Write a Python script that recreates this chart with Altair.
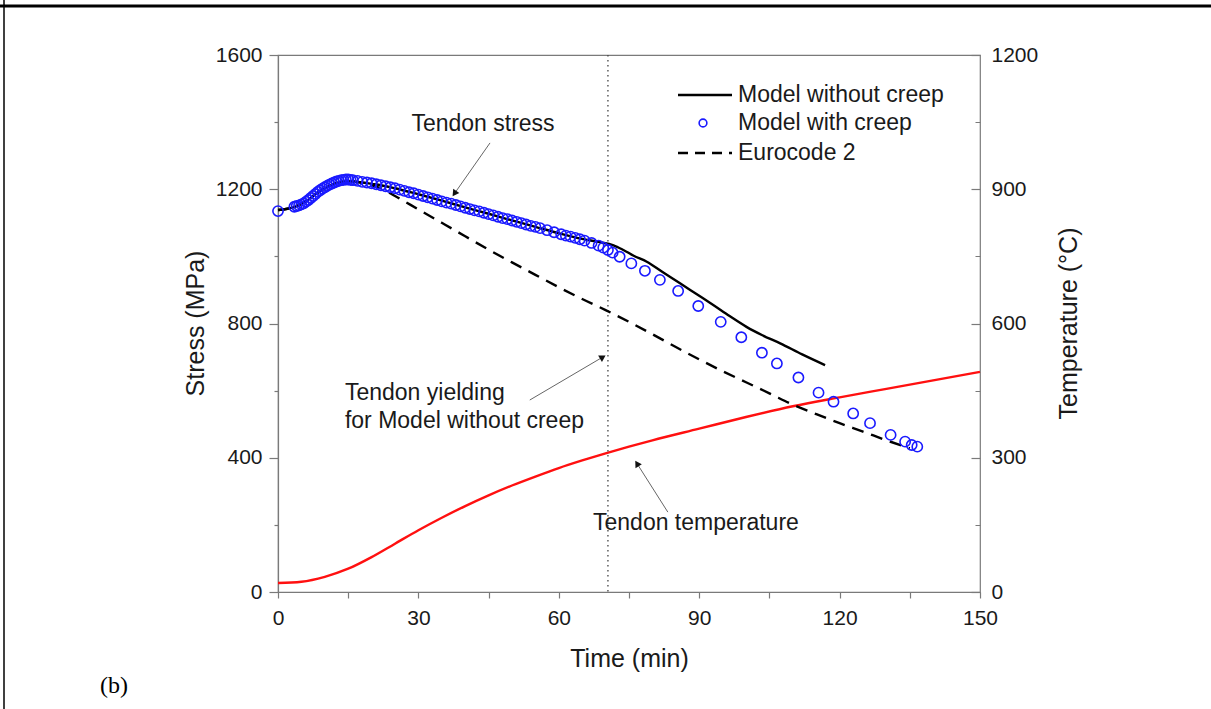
import altair as alt
import pandas as pd

# ---------------- data ----------------
temp_time = [0, 5, 10, 15, 20, 25, 30, 35, 40, 45, 50, 55, 60, 65, 70, 75, 80, 90, 100, 110, 120, 130, 140, 150]
temp_vals = [20, 23, 34, 52, 78, 108, 138, 166, 192, 216, 238, 258, 277, 294, 310, 325, 339, 365, 391, 415, 435, 454, 473, 492]

nocreep_time = [0, 2, 4, 6, 8, 10, 12, 14, 15, 16, 18, 20, 22, 25, 30, 35, 40, 45, 50, 55, 60, 65,
                68.4, 71.7, 73.8, 76, 78.8, 82, 85.9, 89.5, 93, 96.5, 100.1, 103.5, 107.3, 112, 116.9]
nocreep_vals = [1138, 1142, 1150, 1164, 1185, 1203, 1216, 1223, 1224, 1223, 1220, 1216, 1212, 1203, 1185, 1166,
                1146, 1127, 1107, 1088, 1069, 1052, 1043, 1033, 1019, 1002, 984, 955, 920, 887, 855, 822, 790,
                765, 741, 708, 676]

euro_time = [0, 2, 4, 6, 8, 10, 12, 14, 15, 16, 18, 20, 22, 25, 30, 35, 40, 45, 50, 55, 60, 65, 70, 75,
             80, 85, 90, 95, 100, 105, 110, 115, 120, 125, 130, 135]
euro_vals = [1138, 1142, 1150, 1164, 1185, 1203, 1216, 1223, 1224, 1223, 1219, 1212, 1203, 1180, 1140, 1100,
             1060, 1020, 982, 945, 908, 873, 840, 805, 768, 730, 693, 658, 625, 592, 558, 530, 503, 478, 452, 428]

creep_time = [0, 3.5, 4, 4.5, 5, 5.5, 6, 6.5, 7, 7.5, 8, 8.5, 9, 9.5, 10, 10.5, 11, 11.5, 12, 12.5, 13, 13.5,
              14, 14.5, 15, 15.5, 16, 17, 18, 19, 20, 21, 22, 23, 24, 25, 26, 27, 28, 29, 30, 31, 32, 33, 34, 35,
              36, 37, 38, 39, 40, 41, 42, 43, 44, 45, 46, 47, 48, 49, 50, 51, 52, 53, 54, 55, 56, 57.5, 59, 60.5,
              61.5, 62.5, 63.5, 64.5, 65.5, 67, 68.5, 69.5, 70.5, 71.5, 73, 75.5, 78.4, 81.6, 85.5, 89.8, 94.6, 99,
              103.4, 106.6, 111.2, 115.5, 118.7, 122.9, 126.5, 130.9, 134, 135.4, 136.6]
creep_vals = [1135, 1148, 1150, 1152, 1155, 1158, 1163, 1168, 1174, 1180, 1186, 1192, 1197, 1202, 1206, 1210,
              1214, 1217, 1220, 1223, 1225, 1227, 1228, 1229, 1229, 1228, 1227, 1225, 1222, 1220, 1218, 1215,
              1212, 1209, 1206, 1203, 1199, 1195, 1191, 1188, 1184, 1180, 1176, 1172, 1168, 1164, 1160, 1157,
              1153, 1149, 1145, 1141, 1137, 1134, 1130, 1126, 1122, 1118, 1114, 1111, 1107, 1103, 1099, 1095,
              1091, 1088, 1084, 1078, 1072, 1066, 1062, 1059, 1055, 1051, 1047, 1040, 1032, 1026, 1019, 1011,
              999, 979, 957, 930, 897, 852, 805, 759, 713, 681, 639, 594, 567, 532, 503, 468, 448, 438, 433]

yield_time = [70.5]

# annotation texts and arrows (data coordinates)
ann_text = ["Tendon stress", "Tendon temperature"]
ann_t = [43.8, 89.3]
ann_s = [1394, 206]
yield_lines = ["Tendon yielding", "for Model without creep"]
yield_lines_t = [14.3, 14.3]
yield_lines_s = [594, 510]

arrow_t = [45.3, 53.8, 83.3]
arrow_s = [1338, 572, 238]
arrow_t2 = [37.7, 69.4, 76.7]
arrow_s2 = [1187, 700, 383]
arrow_angle = [215, 59, 328]

FONT = "Liberation Sans"
TXT = "#1a1a1a"
AX = "#7a7a7a"

temp_df = pd.DataFrame({"t": temp_time, "T": temp_vals})
nc_df = pd.DataFrame({"t": nocreep_time, "s": nocreep_vals})
eu_df = pd.DataFrame({"t": euro_time, "s": euro_vals})
cr_df = pd.DataFrame({"t": creep_time, "s": creep_vals})
yl_df = pd.DataFrame({"t": yield_time})
ann_df = pd.DataFrame({"label": ann_text, "t": ann_t, "s": ann_s})
yl_txt_df = pd.DataFrame({"label": yield_lines, "t": yield_lines_t, "s": yield_lines_s})
arr_df = pd.DataFrame({"t": arrow_t, "s": arrow_s, "t2": arrow_t2, "s2": arrow_s2, "ang": arrow_angle})
one = pd.DataFrame({"a": [0]})

xs = alt.Scale(domain=[0, 150], nice=False, zero=False)
ys = alt.Scale(domain=[0, 1600], nice=False, zero=False)
ts = alt.Scale(domain=[0, 1200], nice=False, zero=False)

x_axis = alt.Axis(
    orient="bottom", labelFlush=False,
    values=list(range(0, 151, 15)), tickSize=6, labelPadding=9,
    labelExpr="datum.value % 30 === 0 ? '' + datum.value : ''",
    title="Time (min)", titleX=351, titleY=66, titleBaseline="middle", titleAlign="center",
    grid=False,
)
y_axis = alt.Axis(
    orient="left", labelFlush=False,
    values=list(range(0, 1601, 200)), tickSize=9, labelPadding=7,
    tickDash={"condition": {"test": "datum.value % 400 !== 0", "value": [4, 100]}, "value": [50, 1]},
    labelExpr="datum.value % 400 === 0 ? '' + datum.value : ''",
    title="Stress (MPa)", titleAngle=270, titleX=-83, titleY=268,
    titleAlign="center", titleBaseline="middle", grid=False,
)
t_axis = alt.Axis(
    orient="right", offset=-9, domain=False, labelFlush=False,
    values=list(range(0, 1201, 150)), tickSize=9, labelPadding=11,
    tickDash={"condition": {"test": "datum.value % 300 !== 0", "value": [0, 4, 5, 100]}, "value": [50, 1]},
    labelExpr="datum.value % 300 === 0 ? '' + datum.value : ''",
    title="Temperature (°C)", titleAngle=270, titleX=97, titleY=268,
    titleAlign="center", titleBaseline="middle", grid=False,
)


def X(field="t", ax=None):
    # x scale is shared: only one layer defines the axis, the others leave it unset
    if ax is None:
        return alt.X(f"{field}:Q", scale=xs)
    return alt.X(f"{field}:Q", scale=xs, axis=ax)


def Y(field="s", ax=None):
    # y scales are independent per layer: only one layer shows an axis
    return alt.Y(f"{field}:Q", scale=ys, axis=ax)


temp = alt.Chart(temp_df).mark_line(color="#ff1010", strokeWidth=2.4, interpolate="monotone").encode(
    x=X(ax=x_axis), y=alt.Y("T:Q", scale=ts, axis=t_axis)
)
nocreep = alt.Chart(nc_df).mark_line(color="black", strokeWidth=2.4, interpolate="monotone").encode(
    x=X(), y=Y(ax=y_axis)
)
dotted = alt.Chart(yl_df).mark_rule(color="#444", strokeWidth=1.3, strokeDash=[1.5, 3.5]).encode(
    x=X(), y=alt.value(0), y2=alt.value(537)
)
euro = alt.Chart(eu_df).mark_line(color="black", strokeWidth=2.4, strokeDash=[12, 8], interpolate="monotone").encode(
    x=X(), y=Y()
)
creep = alt.Chart(cr_df).mark_point(shape="circle", filled=False, size=105, strokeWidth=1.6, color="#1a1aff", opacity=1).encode(
    x=X(), y=Y()
)
arrows = alt.Chart(arr_df).mark_rule(color="#666", strokeWidth=1).encode(
    x=X(), y=Y(), x2="t2:Q", y2="s2:Q"
)
heads = alt.Chart(arr_df).mark_point(shape="triangle-up", filled=True, size=55, color="#111", opacity=1).encode(
    x=X("t2"), y=Y("s2"),
    angle=alt.Angle("ang:Q", scale=None)
)
ann = alt.Chart(ann_df).mark_text(font=FONT, fontSize=23, color=TXT, align="center", baseline="middle").encode(
    x=X(), y=Y(), text="label:N"
)
yl_txt = alt.Chart(yl_txt_df).mark_text(font=FONT, fontSize=23, color=TXT, align="left", baseline="middle").encode(
    x=X(), y=Y(), text="label:N"
)

# legend (layout elements)
leg_solid = alt.Chart(one).mark_rule(color="black", strokeWidth=2.4).encode(
    x=alt.value(400), x2=alt.value(454), y=alt.value(40))
leg_circle = alt.Chart(one).mark_point(shape="circle", filled=False, size=60, strokeWidth=1.6, color="#1a1aff", opacity=1).encode(
    x=alt.value(425), y=alt.value(68))
leg_dash = alt.Chart(one).mark_rule(color="black", strokeWidth=2.4, strokeDash=[10, 7]).encode(
    x=alt.value(400), x2=alt.value(454), y=alt.value(98))
leg_labels = ["Model without creep", "Model with creep", "Eurocode 2"]
leg_txt = [
    alt.Chart(one).mark_text(font=FONT, fontSize=23, color=TXT, align="left", baseline="middle", text=lab).encode(
        x=alt.value(460), y=alt.value(yy))
    for lab, yy in zip(leg_labels, [40, 68, 98])
]

# figure frame and panel tag
frame_top = alt.Chart(one).mark_rule(color="black", strokeWidth=3).encode(
    x=alt.value(-278), x2=alt.value(933), y=alt.value(-49))
frame_left = alt.Chart(one).mark_rule(color="black", strokeWidth=1.5).encode(
    x=alt.value(-274), y=alt.value(-55), y2=alt.value(654))
tag = alt.Chart(one).mark_text(font="Liberation Serif", fontSize=24, color="black", align="left", baseline="middle", text="(b)").encode(
    x=alt.value(-178), y=alt.value(631))

chart = alt.layer(
    temp, nocreep, dotted, euro, creep, arrows, heads, ann, yl_txt,
    leg_solid, leg_circle, leg_dash, *leg_txt, frame_top, frame_left, tag
).resolve_scale(y="independent").properties(
    width=702, height=537,
    autosize=alt.AutoSizeParams(type="none"),
    padding={"left": 278, "top": 55, "right": 231, "bottom": 117},
    background="white",
).configure_view(stroke=AX, strokeWidth=1.2).configure_axis(
    domainColor=AX, tickColor=AX, domainWidth=1.2, tickWidth=1.2,
    labelFont=FONT, labelFontSize=21, labelColor=TXT,
    titleFont=FONT, titleFontSize=25, titleColor=TXT, titleFontWeight="normal",
)

chart.save("out.html", embed_options={"renderer": "svg", "actions": False})
